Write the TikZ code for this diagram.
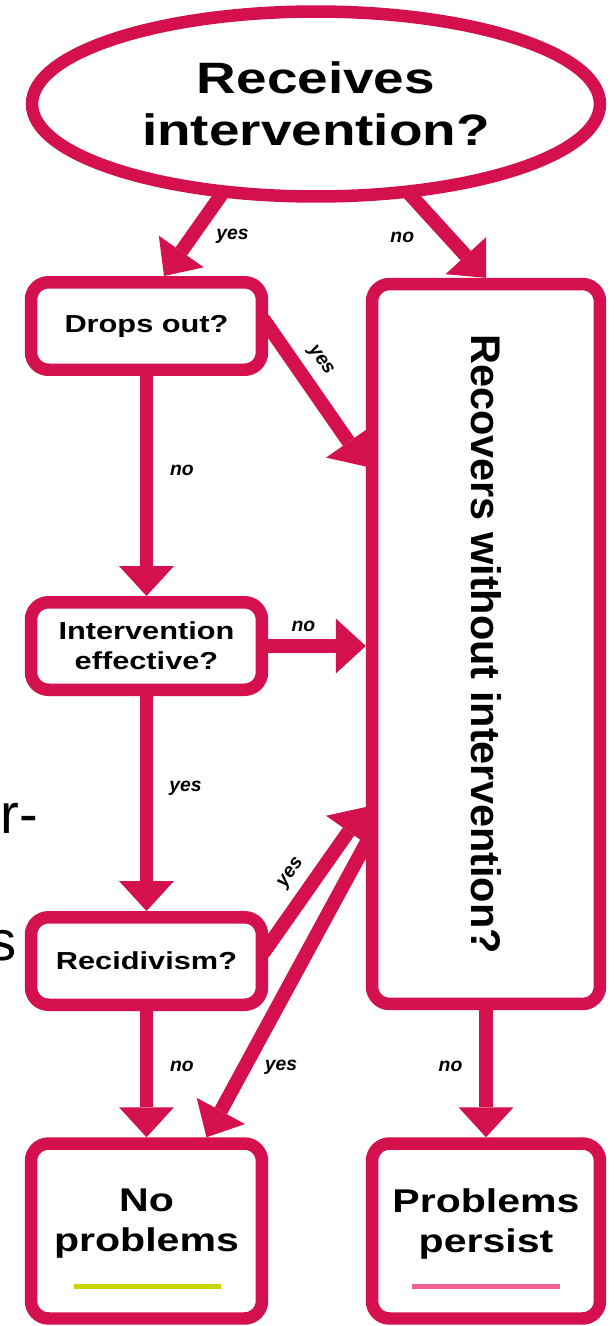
\documentclass[tikz,border=0pt]{standalone}
\usepackage{fontspec}
\setmainfont{Liberation Sans}
\newfontfamily\widefont{Liberation Sans}[FakeStretch=1.25]
\usetikzlibrary{shapes.geometric}
\usetikzlibrary{arrows.meta}
\usetikzlibrary{calc}
\definecolor{flowred}{RGB}{212,17,78}
\definecolor{barlime}{RGB}{200,212,0}
\definecolor{barpink}{RGB}{240,98,146}

\begin{document}
\begin{tikzpicture}[x=0.02cm,y=-0.02cm,
  >={Triangle[width=1.1cm,length=0.6cm,line width=0pt]},
  flow/.style={draw=flowred,line width=0.25cm},
  qbox/.style={flow,rectangle,rounded corners=0.35cm,fill=white,minimum width=4.62cm,minimum height=1.75cm,inner sep=0pt,align=center,font=\widefont\bfseries\fontsize{14}{17}\selectfont},
  endbox/.style={flow,rectangle,rounded corners=0.35cm,fill=white,minimum width=4.62cm,minimum height=3.5cm,inner sep=0pt},
  endtext/.style={inner sep=0pt,align=center,font=\widefont\bfseries\fontsize{18.7}{22.8}\selectfont},
  arr/.style={->,color=flowred,line width=0.28cm,shorten <=-5pt},
  lbl/.style={text=black,inner sep=0pt,font=\bfseries\itshape\fontsize{11}{12}\selectfont},
  frag/.style={inner sep=0pt,font=\fontsize{32}{38}\selectfont}]
\useasboundingbox (0,0) rectangle (613,1326);

% the question boxes
\node[flow,ellipse,fill=white,minimum width=11.36cm,minimum height=3.7cm,inner sep=0pt,align=center,font=\widefont\bfseries\fontsize{25}{29.6}\selectfont] (recv) at (316,104) {Receives\\intervention?};
\node[qbox] (dropout) at (146.5,326) {Drops out?};
\node[qbox] (effect) at (146.5,646) {Intervention\\effective?};
\node[qbox] (recid) at (146.5,961) {Recidivism?};
\node[flow,rectangle,rounded corners=0.35cm,fill=white,minimum width=4.56cm,minimum height=14.4cm] (recover) at (486,644) {};
\node[rotate=-90,inner sep=0pt,font=\bfseries\fontsize{23.6}{28}\selectfont] (recovtxt) at (recover.center) {Recovers without intervention?};

% outcomes
\node[endbox] (noprob) at (146.5,1231) {};
\node[endtext] (noprobtxt) at (146.5,1224) {No\\problems};
\node[endbox,minimum width=4.56cm] (persist) at (486,1231) {};
\node[endtext] (persisttxt) at (486,1224) {Problems\\persist};
\draw[barlime,line width=0.1cm] ($(noprob.south)+(-73,-38)$) -- ($(noprob.south)+(74,-38)$);
\draw[barpink,line width=0.1cm] ($(persist.south)+(-74,-38)$) -- ($(persist.south)+(74,-38)$);

% cut-off text at the left edge
\node[frag,anchor=base west] (frag1) at (0,833) {r-};
\node[frag,anchor=base east] (frag2) at (17,960) {s};

% connectors
\draw[arr] (recv.224) -- ([xshift=0.35cm]dropout.north) node[lbl,pos=.5,right=10pt] (l1) {yes};
\draw[arr] (recv.316) -- (recover.north) node[lbl,pos=.5,left=16pt] (l2) {no};
\draw[arr] (dropout.east) -- ([yshift=3.55cm]recover.west) node[lbl,sloped,above=5pt,pos=.34] (l3) {yes};
\draw[arr] (dropout) -- (effect) node[lbl,pos=.43,right=9.5pt] (l4) {no};
\draw[arr] (effect) -- (effect -| recover.west) node[lbl,pos=.36,above=4pt] (l5) {no};
\draw[arr] (effect) -- (recid) node[lbl,pos=.43,right=9pt] (l6) {yes};
\draw[arr] ([yshift=0.3cm]recid.east) -- ([yshift=-3.26cm]recover.west) node[lbl,sloped,above=5pt,pos=.43] (l7) {yes};
\draw[arr] ([yshift=-4cm]recover.west) -- ([xshift=1.2cm]noprob.north) node[lbl,pos=.76,right=7.5pt] (l8) {yes};
\draw[arr] (recid) -- (noprob) node[lbl,pos=.44,right=9.5pt] (l9) {no};
\draw[arr] (recover) -- (persist) node[lbl,pos=.44,left=9.5pt] (l10) {no};
\end{tikzpicture}
\end{document}
